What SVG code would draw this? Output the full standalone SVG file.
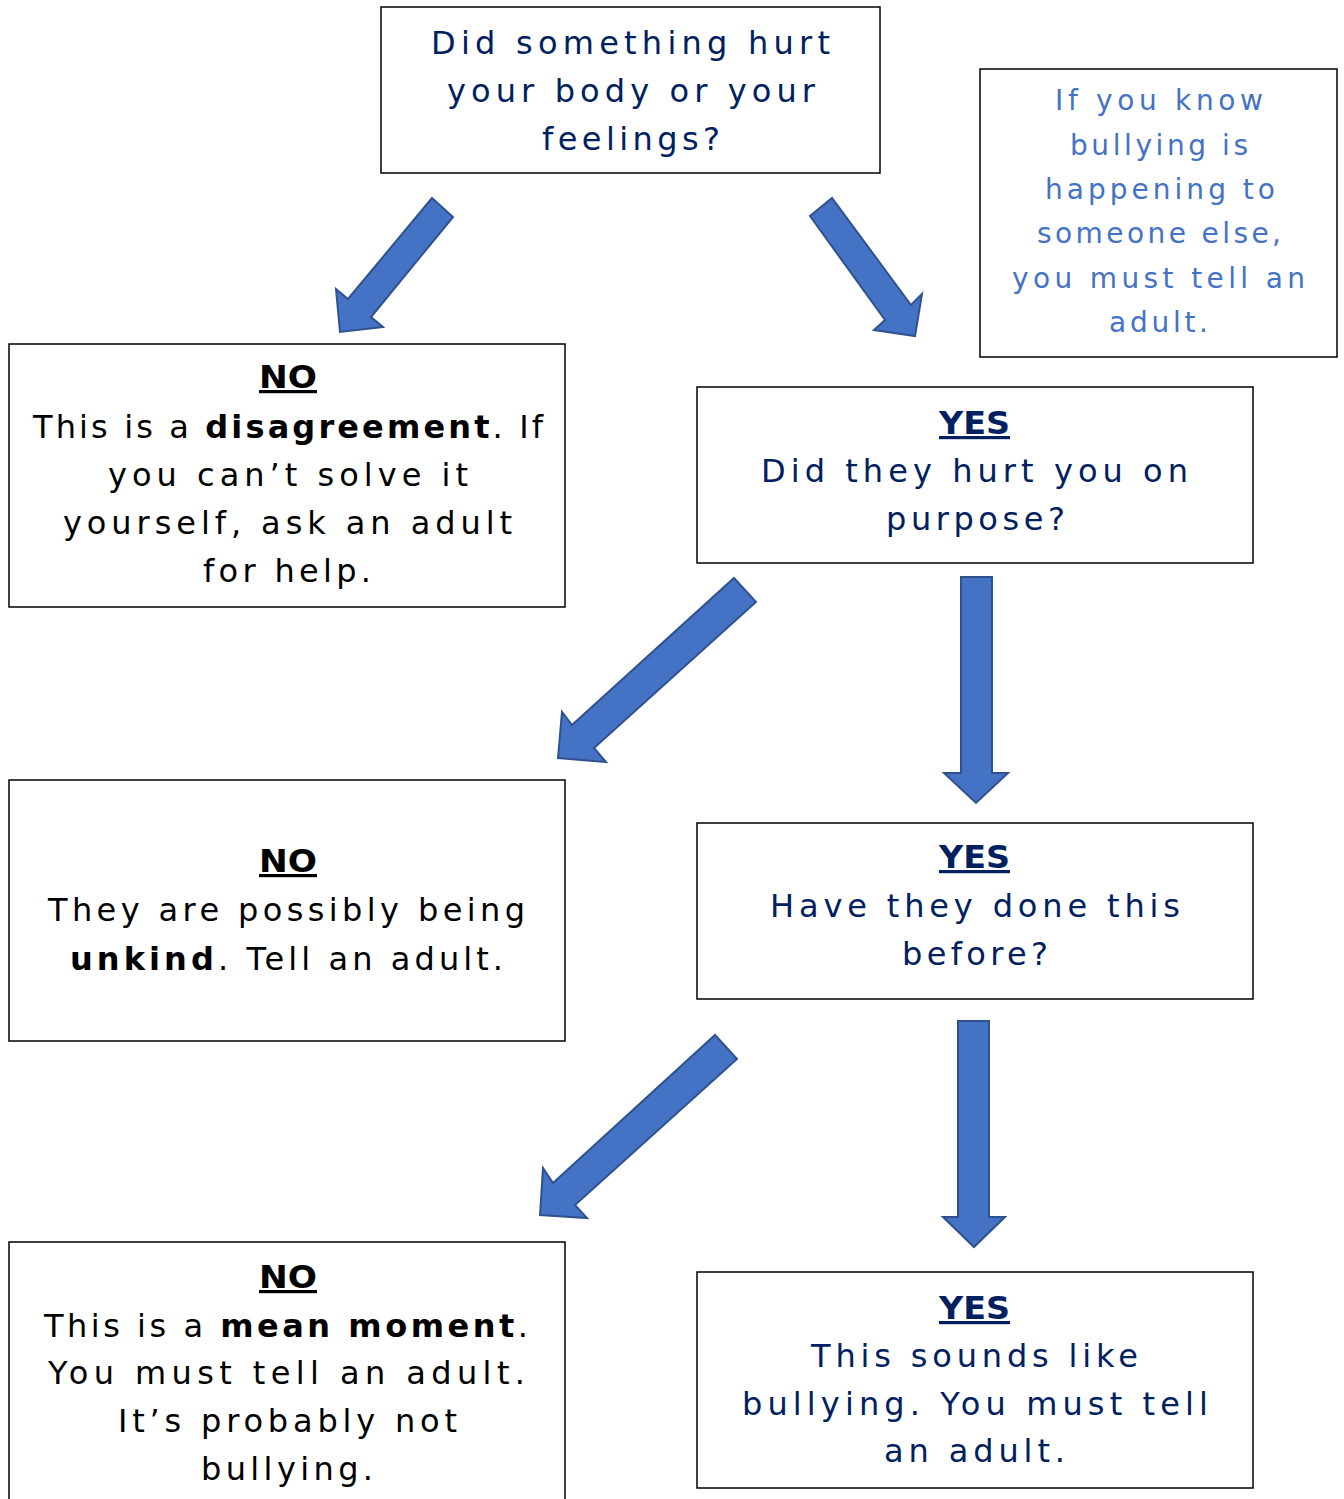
<svg xmlns="http://www.w3.org/2000/svg" width="1344" height="1499" viewBox="0 0 1344 1499">
<style>
.box{fill:#ffffff;stroke:#000000;stroke-width:1.5}
.arrow{fill:#4472C4;stroke:#2F528F;stroke-width:2;stroke-linejoin:miter}
text{font-family:"DejaVu Sans","Noto Sans",sans-serif;font-size:32px;text-anchor:middle}
.navy{fill:#002060}
.black{fill:#000000}
.note{fill:#4472C4;font-size:28px}
.b{font-weight:bold}
.u{font-weight:bold;text-decoration:underline}
</style>
<rect width="1344" height="1499" fill="#ffffff"/>
<g id="connectors">
<polygon class="arrow" points="432,198 453,217 371,317 383,327 340,332 336,289 348,299"/>
<polygon class="arrow" points="810,216 832,198 911,305 922,294 915,336 874,330 885,320"/>
<polygon class="arrow" points="734,578 756,602 594,748 606,762 558,758 562,712 572,725"/>
<polygon class="arrow" points="961,577 992,577 992,773 1008,773 976,803 944,773 961,773"/>
<polygon class="arrow" points="715,1035 737,1059 575,1205 587,1218 540,1215 543,1168 553,1183"/>
<polygon class="arrow" points="958,1021 989,1021 989,1217 1005,1217 974,1247 943,1217 958,1217"/>
</g>
<g id="start">
<rect class="box" x="381" y="7" width="499" height="166"/>
<text class="navy" x="630.5" y="54" textLength="399" lengthAdjust="spacing">Did something hurt</text>
<text class="navy" x="631" y="102" textLength="368" lengthAdjust="spacing">your body or your</text>
<text class="navy" x="631" y="150" textLength="178" lengthAdjust="spacing">feelings?</text>
</g>
<g id="note">
<rect class="box" x="980" y="69" width="357" height="288"/>
<text class="note" x="1159" y="110" textLength="208" lengthAdjust="spacing">If you know</text>
<text class="note" x="1159" y="155" textLength="178" lengthAdjust="spacing">bullying is</text>
<text class="note" x="1160" y="199" textLength="230" lengthAdjust="spacing">happening to</text>
<text class="note" x="1159" y="243" textLength="244" lengthAdjust="spacing">someone else,</text>
<text class="note" x="1158.5" y="288" textLength="293" lengthAdjust="spacing">you must tell an</text>
<text class="note" x="1158.5" y="332" textLength="99" lengthAdjust="spacing">adult.</text>
</g>
<g id="no1">
<rect class="box" x="9" y="344" width="556" height="263"/>
<text class="black u" x="288" y="388" textLength="58" lengthAdjust="spacingAndGlyphs">NO</text>
<text class="black" x="288" y="438" textLength="510" lengthAdjust="spacing">This is a <tspan class="b">disagreement</tspan>. If</text>
<text class="black" x="288" y="486" textLength="360" lengthAdjust="spacing">you can’t solve it</text>
<text class="black" x="287.5" y="534" textLength="449" lengthAdjust="spacing">yourself, ask an adult</text>
<text class="black" x="287" y="582" textLength="168" lengthAdjust="spacing">for help.</text>
</g>
<g id="yes1">
<rect class="box" x="697" y="387" width="556" height="176"/>
<text class="navy u" x="974.5" y="434" textLength="71" lengthAdjust="spacingAndGlyphs">YES</text>
<text class="navy" x="974.5" y="482" textLength="427" lengthAdjust="spacing">Did they hurt you on</text>
<text class="navy" x="975.5" y="530" textLength="179" lengthAdjust="spacing">purpose?</text>
</g>
<g id="no2">
<rect class="box" x="9" y="780" width="556" height="261"/>
<text class="black u" x="288" y="872" textLength="58" lengthAdjust="spacingAndGlyphs">NO</text>
<text class="black" x="286.5" y="921" textLength="477" lengthAdjust="spacing">They are possibly being</text>
<text class="black" x="286.5" y="970" textLength="433" lengthAdjust="spacing"><tspan class="b">unkind</tspan>. Tell an adult.</text>
</g>
<g id="yes2">
<rect class="box" x="697" y="823" width="556" height="176"/>
<text class="navy u" x="974.5" y="868" textLength="71" lengthAdjust="spacingAndGlyphs">YES</text>
<text class="navy" x="975" y="917" textLength="410" lengthAdjust="spacing">Have they done this</text>
<text class="navy" x="975" y="965" textLength="146" lengthAdjust="spacing">before?</text>
</g>
<g id="no3">
<rect class="box" x="9" y="1242" width="556" height="280"/>
<text class="black u" x="288" y="1288" textLength="58" lengthAdjust="spacingAndGlyphs">NO</text>
<text class="black" x="286" y="1337" textLength="484" lengthAdjust="spacing">This is a <tspan class="b">mean moment</tspan>.</text>
<text class="black" x="286.5" y="1384" textLength="477" lengthAdjust="spacing">You must tell an adult.</text>
<text class="black" x="287.5" y="1432" textLength="339" lengthAdjust="spacing">It’s probably not</text>
<text class="black" x="287" y="1480" textLength="172" lengthAdjust="spacing">bullying.</text>
</g>
<g id="yes3">
<rect class="box" x="697" y="1272" width="556" height="216"/>
<text class="navy u" x="974.5" y="1319" textLength="71" lengthAdjust="spacingAndGlyphs">YES</text>
<text class="navy" x="974.5" y="1367" textLength="327" lengthAdjust="spacing">This sounds like</text>
<text class="navy" x="975" y="1415" textLength="466" lengthAdjust="spacing">bullying. You must tell</text>
<text class="navy" x="974.5" y="1462" textLength="181" lengthAdjust="spacing">an adult.</text>
</g>
</svg>
